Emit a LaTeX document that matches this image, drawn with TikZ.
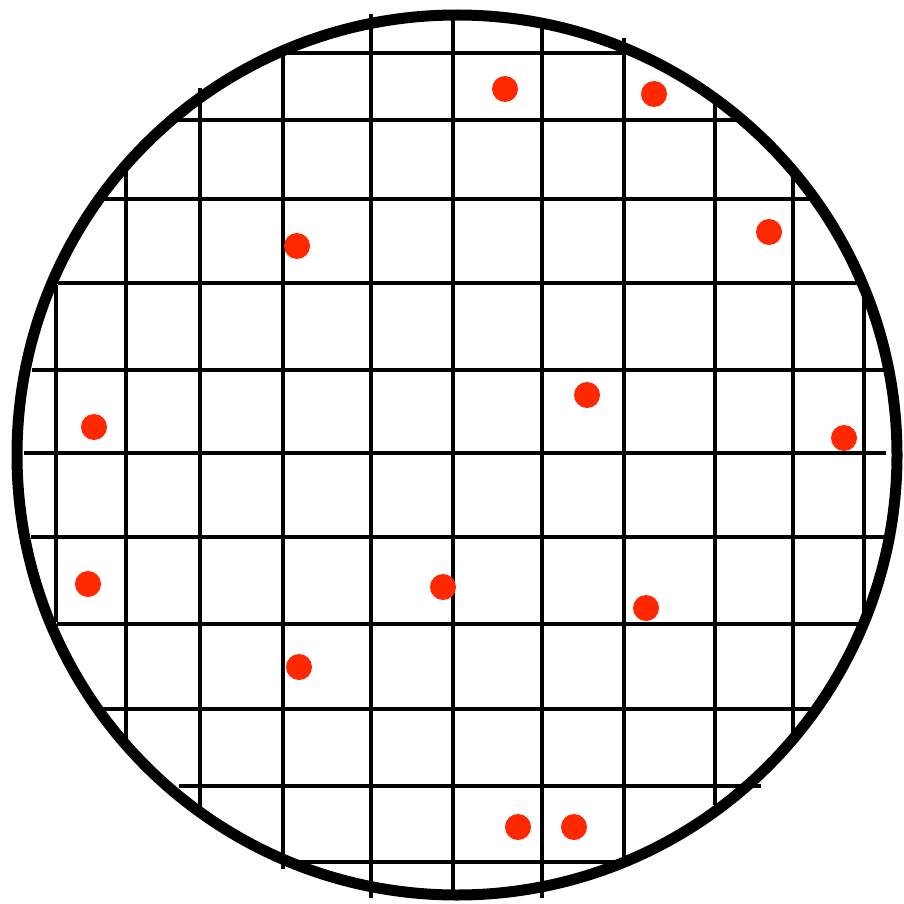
\documentclass[tikz,border=0pt]{standalone}
\usetikzlibrary{positioning}

\definecolor{dotred}{RGB}{255,40,0}

\begin{document}
\begin{tikzpicture}[
  x=1pt, y=-1pt,
  wafer/.style={draw=black, line width=11pt},
  gridline/.style={draw=black, line width=3.4pt},
  dot/.style={circle, fill=dotred, draw=none, minimum size=26pt, inner sep=0pt}
]
\useasboundingbox (0,0) rectangle (903,904);

% ------------------------------------------------------------
% Horizontal lines
% ------------------------------------------------------------

\draw[gridline] (285,53) -- (625,53);
\draw[gridline] (178,120) -- (738,120);
\draw[gridline] (103,199) -- (812,199);
\draw[gridline] (58,283) -- (858,283);
\draw[gridline] (32,370) -- (885,370);
\draw[gridline] (24,453) -- (886,453);
\draw[gridline] (31,537) -- (885,537);
\draw[gridline] (57,624) -- (860,624);
\draw[gridline] (102,709) -- (813,709);
\draw[gridline] (179,786) -- (761,786);
\draw[gridline] (285,862) -- (622,862);

% ------------------------------------------------------------
% Vertical lines
% ------------------------------------------------------------

\draw[gridline] (56,285) -- (56,622);
\draw[gridline] (126,170) -- (126,740);
\draw[gridline] (200,88) -- (200,810);
\draw[gridline] (283,55) -- (283,869);
\draw[gridline] (371,14) -- (371,898);
\draw[gridline] (453,10) -- (453,900);
\draw[gridline] (542,28) -- (542,898);
\draw[gridline] (624,38) -- (624,858);
\draw[gridline] (715,100) -- (715,805);
\draw[gridline] (793,173) -- (793,737);
\draw[gridline] (864,290) -- (864,622);

% ------------------------------------------------------------
% Outline
% ------------------------------------------------------------

\draw[wafer] (457,455) circle[radius=440pt];

% ------------------------------------------------------------
% Dots
% ------------------------------------------------------------

\node[dot] (d1) at (505,89) {};
\node[dot] (d2) at (654,94) {};
\node[dot] (d3) at (297,246) {};
\node[dot] (d4) at (769,232) {};
\node[dot] (d5) at (587,395) {};
\node[dot] (d6) at (94,427) {};
\node[dot] (d7) at (844,438) {};
\node[dot] (d8) at (88,584) {};
\node[dot] (d9) at (443,587) {};
\node[dot] (d10) at (646,608) {};
\node[dot] (d11) at (299,667) {};
\node[dot] (d12) at (518,827) {};
\node[dot] (d13) at (574,827) {};

\end{tikzpicture}
\end{document}
